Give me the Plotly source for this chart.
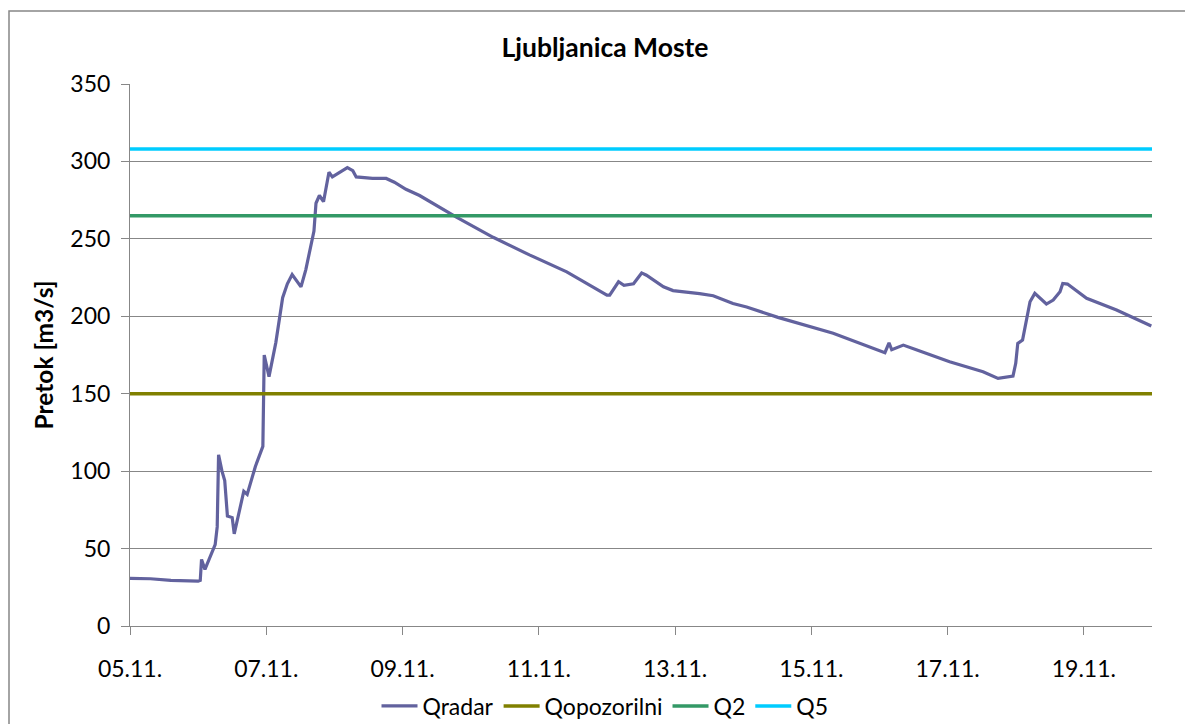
import plotly.graph_objects as go

# ---- data ----
times = [
    "2012-11-05 00:00", "2012-11-05 07:12", "2012-11-05 14:24", "2012-11-06 00:00",
    "2012-11-06 00:45", "2012-11-06 01:12", "2012-11-06 02:24", "2012-11-06 06:00",
    "2012-11-06 06:43", "2012-11-06 07:12", "2012-11-06 08:24", "2012-11-06 09:22",
    "2012-11-06 10:19", "2012-11-06 12:00", "2012-11-06 12:43", "2012-11-06 14:10",
    "2012-11-06 16:05", "2012-11-06 17:17", "2012-11-06 20:10", "2012-11-06 22:48",
    "2012-11-06 23:17", "2012-11-07 00:58", "2012-11-07 03:22", "2012-11-07 05:46",
    "2012-11-07 07:26", "2012-11-07 09:07", "2012-11-07 12:14", "2012-11-07 13:55",
    "2012-11-07 15:36", "2012-11-07 16:48", "2012-11-07 17:31", "2012-11-07 18:43",
    "2012-11-07 20:10", "2012-11-07 22:05", "2012-11-07 23:17", "2012-11-08 01:41",
    "2012-11-08 04:34", "2012-11-08 06:29", "2012-11-08 07:41", "2012-11-08 13:26",
    "2012-11-08 18:14", "2012-11-08 21:07", "2012-11-09 01:12", "2012-11-09 06:00",
    "2012-11-09 18:58", "2012-11-10 07:55", "2012-11-10 20:53", "2012-11-11 09:50",
    "2012-11-12 00:00", "2012-11-12 00:58", "2012-11-12 02:24", "2012-11-12 04:05",
    "2012-11-12 06:00", "2012-11-12 09:22", "2012-11-12 12:14", "2012-11-12 13:55",
    "2012-11-12 19:55", "2012-11-12 23:17", "2012-11-13 08:38", "2012-11-13 13:26",
    "2012-11-13 20:24", "2012-11-14 01:12", "2012-11-14 12:14", "2012-11-15 07:41",
    "2012-11-16 01:55", "2012-11-16 03:22", "2012-11-16 04:19", "2012-11-16 08:24",
    "2012-11-16 12:58", "2012-11-17 00:43", "2012-11-17 12:29", "2012-11-17 17:46",
    "2012-11-17 23:02", "2012-11-18 00:00", "2012-11-18 00:43", "2012-11-18 02:24",
    "2012-11-18 05:02", "2012-11-18 06:43", "2012-11-18 10:48", "2012-11-18 13:12",
    "2012-11-18 15:36", "2012-11-18 16:34", "2012-11-18 18:14", "2012-11-19 00:58",
    "2012-11-19 11:31", "2012-11-19 23:46",
]
qradar = [
    30.7, 30.5, 29.5, 29.0,
    29.5, 43.0, 36.5, 52.5,
    64.0, 110.5, 100.0, 94.0,
    71.0, 70.0, 59.5, 72.0,
    87.0, 85.0, 103.0, 116.0,
    175.0, 161.0, 183.0, 212.0,
    221.0, 227.0, 219.0, 230.0,
    246.0, 255.0, 273.0, 278.0,
    274.0, 293.0, 290.0, 293.0,
    296.0, 294.0, 290.0, 289.0,
    289.0, 286.6, 282.0, 278.0,
    264.0, 251.0, 239.5, 228.7,
    213.7, 213.7, 218.0, 222.3,
    220.0, 221.0, 228.0, 226.5,
    219.0, 216.6, 214.6, 213.3,
    208.3, 206.0, 199.3, 189.0,
    176.5, 182.9, 178.4, 181.4,
    178.4, 170.6, 164.2, 159.9,
    161.4, 169.6, 182.5, 184.7,
    209.4, 214.8, 207.9, 210.5,
    215.8, 221.2, 220.8, 211.6,
    204.0, 193.7,
]
period = ["2012-11-05 00:00", "2012-11-20 00:00"]
q_opozorilni = 150
q2 = 265
q5 = 308
tick_dates = ["2012-11-05", "2012-11-07", "2012-11-09", "2012-11-11",
              "2012-11-13", "2012-11-15", "2012-11-17", "2012-11-19"]
tick_labels = ["05.11.", "07.11.", "09.11.", "11.11.", "13.11.", "15.11.", "17.11.", "19.11."]

FONT = "Lato, 'Open Sans', sans-serif"
GRID = "#878787"

# page has an 8px body margin, so the figure is drawn 8px smaller
W, H = 1185, 716
L, T, PW, PH = 122, 76, 1022, 542

fig = go.Figure()
fig.add_trace(go.Scatter(x=times, y=qradar, mode="lines", name="Qradar",
                         line=dict(color="#62629E", width=3.2)))
fig.add_trace(go.Scatter(x=period, y=[q_opozorilni] * 2, mode="lines", name="Qopozorilni",
                         line=dict(color="#808000", width=3.5)))
fig.add_trace(go.Scatter(x=period, y=[q2] * 2, mode="lines", name="Q2",
                         line=dict(color="#339966", width=3.5)))
fig.add_trace(go.Scatter(x=period, y=[q5] * 2, mode="lines", name="Q5",
                         line=dict(color="#00CCFF", width=3.5)))

fig.update_layout(
    width=W, height=H,
    margin=dict(l=L, r=W - L - PW, t=T, b=H - T - PH, autoexpand=False),
    paper_bgcolor="white", plot_bgcolor="white",
    font=dict(family=FONT, size=23, color="black"),
    title=dict(text="<b>Ljubljanica Moste</b>", x=(605 - 8) / W, xanchor="center",
               y=1 - (48 - 8) / H, yanchor="middle", font=dict(size=26.5)),
    showlegend=True,
    legend=dict(orientation="h", x=(605 - 130) / PW, xanchor="center",
                y=(626 - 706) / PH, yanchor="middle", font=dict(size=23),
                itemwidth=36, tracegroupgap=0, bgcolor="rgba(0,0,0,0)"),
    hovermode=False,
)
fig.update_xaxes(
    type="date", range=period, tickvals=tick_dates, ticktext=tick_labels,
    tickangle=0, automargin=False,
    showgrid=False, showline=True, linecolor=GRID, linewidth=1,
    ticks="outside", ticklen=8, tickcolor=GRID, ticklabelstandoff=14,
    zeroline=False,
)
fig.update_yaxes(
    range=[0, 350], dtick=50, showgrid=True, gridcolor=GRID, gridwidth=1,
    showline=True, linecolor=GRID, linewidth=1, automargin=False,
    ticks="outside", ticklen=8, tickcolor=GRID, ticklabelstandoff=6,
    zeroline=False,
    title=dict(text="<b>Pretok [m3/s]</b>", font=dict(size=24.5), standoff=9),
)
fig.add_shape(type="rect", xref="paper", yref="paper",
              x0=(9 - 130) / PW, x1=(1210 - 130) / PW,
              y0=(626 - 740) / PH, y1=(626 - 11) / PH,
              line=dict(color=GRID, width=1.5), fillcolor="rgba(0,0,0,0)", layer="below")

fig.write_html("out.html")
